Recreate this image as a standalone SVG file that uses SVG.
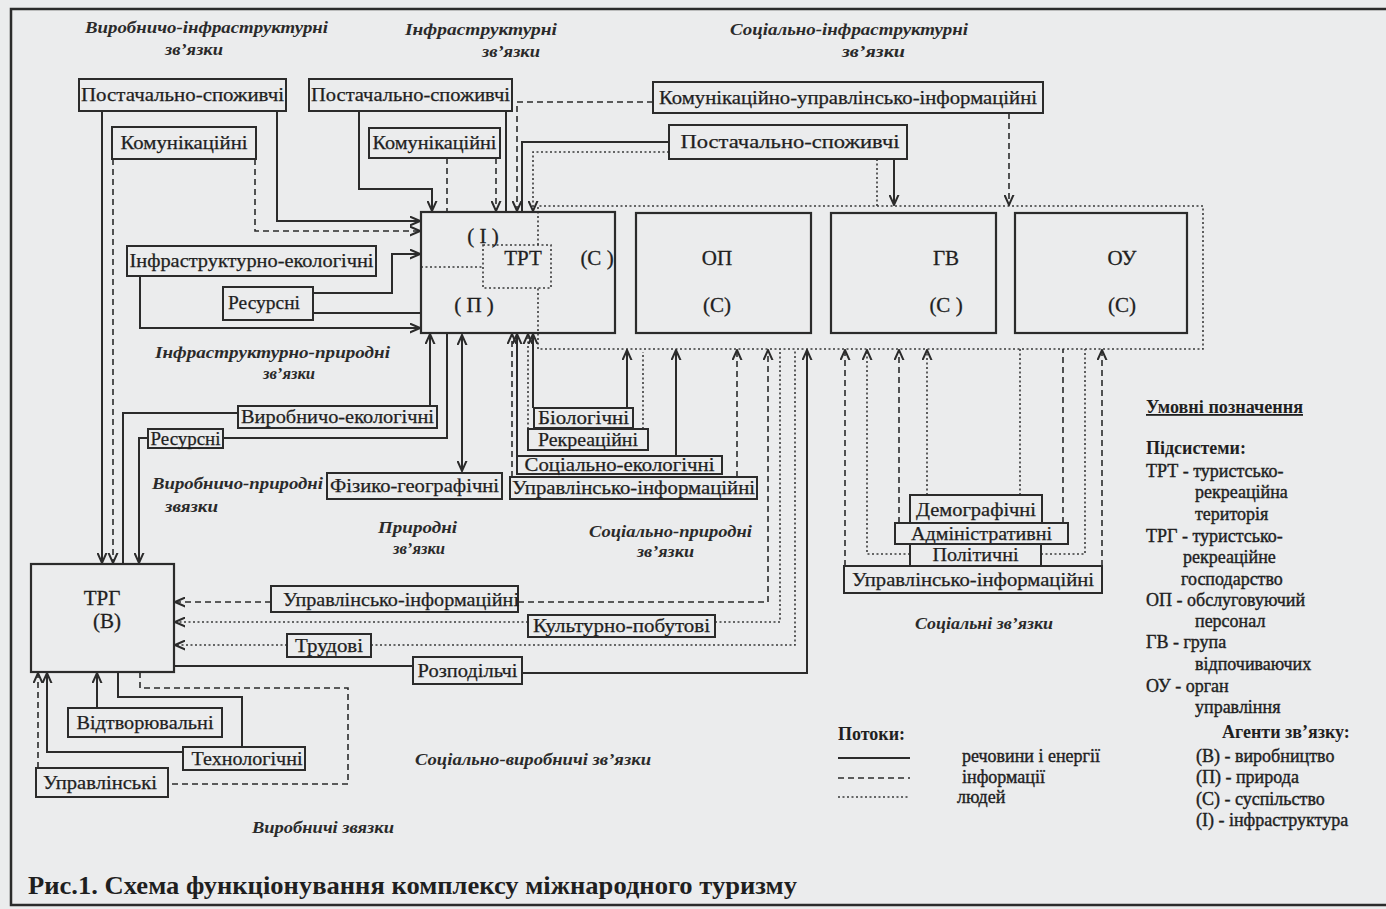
<svg xmlns="http://www.w3.org/2000/svg" width="1386" height="909" viewBox="0 0 1386 909">
<style>
.bg{fill:#ebeced}
.bx{fill:#ebeced;stroke:#2b2b2b;stroke-width:2}
.mb{fill:none;stroke:#2b2b2b;stroke-width:2.2}
.lb{font-family:"Liberation Serif",serif;font-size:18px;fill:#1f1f1f;text-anchor:middle;stroke:#1f1f1f;stroke-width:0.25}
.mt{font-family:"Liberation Serif",serif;font-size:21px;fill:#1f1f1f;text-anchor:middle;stroke:#1f1f1f;stroke-width:0.3}
.hd{font-family:"Liberation Serif",serif;font-size:17px;font-weight:bold;font-style:italic;fill:#2a2a2a}
.lg{font-family:"Liberation Serif",serif;font-size:18px;fill:#1f1f1f;stroke:#1f1f1f;stroke-width:0.4}
.lgb{font-family:"Liberation Serif",serif;font-size:18px;font-weight:bold;fill:#1f1f1f}
.s{fill:none;stroke:#2b2b2b;stroke-width:2}
.d{fill:none;stroke:#2b2b2b;stroke-width:1.6;stroke-dasharray:6 4}
.o{fill:none;stroke:#3a3a3a;stroke-width:1.6;stroke-dasharray:2 2.5}
.a{marker-end:url(#ar)}
</style>
<defs>
<marker id="ar" viewBox="0 0 10 10" refX="9.5" refY="5" markerWidth="11" markerHeight="11" markerUnits="userSpaceOnUse" orient="auto-start-reverse">
<path d="M0,0.8 L9.5,5 L0,9.2" fill="none" stroke="#2b2b2b" stroke-width="1.8"/>
</marker>
</defs>
<rect class="bg" x="0" y="0" width="1386" height="909"/>
<rect x="11" y="9" width="1390" height="896" fill="none" stroke="#2b2b2b" stroke-width="2.5"/>

<g id="connectors">
<path class="o" d="M538,245 V206 H1203 V349 H538 V288"/>
<rect class="o" x="483" y="245" width="68" height="43"/>
<path class="o" d="M421,267 H483"/>
<path class="s a" d="M102,111 V563"/>
<path class="d a" d="M113,159 V563"/>
<path class="s a" d="M277,111 V221 H420"/>
<path class="d a" d="M255,159 V231 H420"/>
<path class="s a" d="M359,112 V189 H432 V211"/>
<path class="d" d="M447,158 V212"/>
<path class="d a" d="M496,158 V211"/>
<path class="s" d="M506,112 V212"/>
<path class="d a" d="M653,102 H517 V211"/>
<path class="s" d="M669,142 H522 V212"/>
<path class="o a" d="M669,152 H533 V211"/>
<path class="o" d="M877,159 V206"/>
<path class="s a" d="M894,159 V205"/>
<path class="d a" d="M1009,113 V205"/>
<path class="s a" d="M313,293 H392 V254 H420"/>
<path class="s" d="M313,313 H421"/>
<path class="s a" d="M140,276 V328 H420"/>
<path class="s a" d="M430,406 V334"/>
<path class="s" d="M222,438 H447 V333"/>
<path class="s a" d="M148,438 H139 V563"/>
<path class="s" d="M238,413 H123 V564"/>
<path class="s a" style="marker-start:url(#ar)" d="M462,335 V471"/>
<path class="d a" d="M512,477 V334"/>
<path class="s a" d="M517,457 V334"/>
<path class="o a" d="M528,429 V334"/>
<path class="s a" d="M533,408 V334"/>
<path class="s a" d="M627,408 V350"/>
<path class="o" d="M643,429 V352"/>
<path class="s a" d="M676,457 V350"/>
<path class="d a" d="M737,477 V350"/>
<path class="d a" d="M518,602 H768 V350"/>
<path class="d a" d="M271,602 H175"/>
<path class="o a" d="M528,622 H175"/>
<path class="o" d="M715,622 H780 V349"/>
<path class="o a" d="M287,645 H175"/>
<path class="o" d="M371,645 H795 V349"/>
<path class="s" d="M413,666 H174"/>
<path class="s a" d="M522,673 H807 V350"/>
<path class="d a" d="M845,566 V350"/>
<path class="o a" d="M910,554 H867 V350"/>
<path class="d a" d="M899,523 V350"/>
<path class="o a" d="M927,495 V350"/>
<path class="o" d="M1020,495 V349"/>
<path class="d" d="M1063,523 V349"/>
<path class="o" d="M1041,554 H1085 V349"/>
<path class="d a" d="M1102,566 V350"/>
<path class="s a" d="M97,708 V673"/>
<path class="s" d="M118,672 V697 H242 V747"/>
<path class="s a" d="M183,752 H47 V673"/>
<path class="d a" d="M38,768 V673"/>
<path class="d" d="M140,672 V688 H348 V784 H168"/>
</g>

<g id="headings">
<text class="hd" x="85" y="33" textLength="243" lengthAdjust="spacingAndGlyphs">Виробничо-інфраструктурні</text>
<text class="hd" x="165" y="55" textLength="58" lengthAdjust="spacingAndGlyphs">зв’язки</text>
<text class="hd" x="405" y="35" textLength="152" lengthAdjust="spacingAndGlyphs">Інфраструктурні</text>
<text class="hd" x="482" y="57" textLength="58" lengthAdjust="spacingAndGlyphs">зв’язки</text>
<text class="hd" x="730" y="35" textLength="238" lengthAdjust="spacingAndGlyphs">Соціально-інфраструктурні</text>
<text class="hd" x="842" y="57" textLength="63" lengthAdjust="spacingAndGlyphs">зв’язки</text>
<text class="hd" x="155" y="358" textLength="235" lengthAdjust="spacingAndGlyphs">Інфраструктурно-природні</text>
<text class="hd" x="263" y="379" textLength="52" lengthAdjust="spacingAndGlyphs">зв’язки</text>
<text class="hd" x="152" y="489" textLength="171" lengthAdjust="spacingAndGlyphs">Виробничо-природні</text>
<text class="hd" x="165" y="512" textLength="53" lengthAdjust="spacingAndGlyphs">звязки</text>
<text class="hd" x="378" y="533" textLength="79" lengthAdjust="spacingAndGlyphs">Природні</text>
<text class="hd" x="393" y="554" textLength="52" lengthAdjust="spacingAndGlyphs">зв’язки</text>
<text class="hd" x="589" y="537" textLength="163" lengthAdjust="spacingAndGlyphs">Соціально-природні</text>
<text class="hd" x="637" y="557" textLength="57" lengthAdjust="spacingAndGlyphs">зв’язки</text>
<text class="hd" x="915" y="629" textLength="138" lengthAdjust="spacingAndGlyphs">Соціальні зв’язки</text>
<text class="hd" x="415" y="765" textLength="236" lengthAdjust="spacingAndGlyphs">Соціально-виробничі зв’язки</text>
<text class="hd" x="252" y="833" textLength="142" lengthAdjust="spacingAndGlyphs">Виробничі звязки</text>
</g>

<g id="trt"><rect class="mb" x="421" y="212" width="194" height="121"/>
<text class="mt" x="483" y="243">( І )</text><text class="mt" x="523" y="265">ТРТ</text><text class="mt" x="597" y="265">(С )</text><text class="mt" x="474" y="312">( П )</text></g>
<g id="op"><rect class="mb" x="636" y="213" width="175" height="120"/>
<text class="mt" x="717" y="265">ОП</text><text class="mt" x="717" y="312">(С)</text></g>
<g id="gv"><rect class="mb" x="831" y="213" width="165" height="120"/>
<text class="mt" x="946" y="265">ГВ</text><text class="mt" x="946" y="312">(С )</text></g>
<g id="ou"><rect class="mb" x="1015" y="213" width="172" height="120"/>
<text class="mt" x="1122" y="265">ОУ</text><text class="mt" x="1122" y="312">(С)</text></g>
<g id="trg"><rect class="mb" x="31" y="564" width="143" height="108"/>
<text class="mt" x="102" y="605">ТРГ</text><text class="mt" x="107" y="628">(В)</text></g>

<g id="n1"><rect class="bx" x="79" y="79" width="207" height="32"/><text class="lb" x="182.5" y="101" textLength="203" lengthAdjust="spacingAndGlyphs">Постачально-споживчі</text></g>
<g id="n2"><rect class="bx" x="309" y="79" width="203" height="32"/><text class="lb" x="410.5" y="101" textLength="199" lengthAdjust="spacingAndGlyphs">Постачально-споживчі</text></g>
<g id="n3"><rect class="bx" x="112" y="127" width="144" height="32"/><text class="lb" x="184" y="149" textLength="127" lengthAdjust="spacingAndGlyphs">Комунікаційні</text></g>
<g id="n4"><rect class="bx" x="369" y="128" width="131" height="30"/><text class="lb" x="434.5" y="149" textLength="124" lengthAdjust="spacingAndGlyphs">Комунікаційні</text></g>
<g id="n5"><rect class="bx" x="653" y="82" width="390" height="31"/><text class="lb" x="848" y="104" textLength="378" lengthAdjust="spacingAndGlyphs">Комунікаційно-управлінсько-інформаційні</text></g>
<g id="n6"><rect class="bx" x="669" y="125" width="238" height="34"/><text class="lb" x="790" y="148" textLength="219" lengthAdjust="spacingAndGlyphs">Постачально-споживчі</text></g>
<g id="n7"><rect class="bx" x="127" y="246" width="249" height="30"/><text class="lb" x="251.5" y="267" textLength="244" lengthAdjust="spacingAndGlyphs">Інфраструктурно-екологічні</text></g>
<g id="n8"><rect class="bx" x="223" y="287" width="90" height="33"/><text class="lb" x="264" y="309" textLength="72" lengthAdjust="spacingAndGlyphs">Ресурсні</text></g>
<g id="n9"><rect class="bx" x="238" y="406" width="199" height="22"/><text class="lb" x="337.5" y="423" textLength="193" lengthAdjust="spacingAndGlyphs">Виробничо-екологічні</text></g>
<g id="n10"><rect class="bx" x="148" y="429" width="75" height="19"/><text class="lb" x="185.5" y="445" textLength="70" lengthAdjust="spacingAndGlyphs">Ресурсні</text></g>
<g id="n11"><rect class="bx" x="327" y="473" width="175" height="26"/><text class="lb" x="414.5" y="492" textLength="169" lengthAdjust="spacingAndGlyphs">Фізико-географічні</text></g>
<g id="n12"><rect class="bx" x="534" y="408" width="99" height="20"/><text class="lb" x="583.5" y="424" textLength="91" lengthAdjust="spacingAndGlyphs">Біологічні</text></g>
<g id="n13"><rect class="bx" x="528" y="429" width="120" height="21"/><text class="lb" x="588" y="446" textLength="100" lengthAdjust="spacingAndGlyphs">Рекреаційні</text></g>
<g id="n14"><rect class="bx" x="517" y="456" width="205" height="18"/><text class="lb" x="619.5" y="471" textLength="190" lengthAdjust="spacingAndGlyphs">Соціально-екологічні</text></g>
<g id="n15"><rect class="bx" x="510" y="477" width="247" height="22"/><text class="lb" x="633.5" y="494" textLength="243" lengthAdjust="spacingAndGlyphs">Управлінсько-інформаційні</text></g>
<g id="n16"><rect class="bx" x="910" y="495" width="132" height="28"/><text class="lb" x="976" y="516" textLength="120" lengthAdjust="spacingAndGlyphs">Демографічні</text></g>
<g id="n17"><rect class="bx" x="895" y="523" width="173" height="21"/><text class="lb" x="981.5" y="540" textLength="141" lengthAdjust="spacingAndGlyphs">Адміністративні</text></g>
<g id="n18"><rect class="bx" x="910" y="544" width="131" height="22"/><text class="lb" x="975.5" y="561" textLength="86" lengthAdjust="spacingAndGlyphs">Політичні</text></g>
<g id="n19"><rect class="bx" x="844" y="566" width="258" height="27"/><text class="lb" x="973" y="586" textLength="242" lengthAdjust="spacingAndGlyphs">Управлінсько-інформаційні</text></g>
<g id="n20"><rect class="bx" x="271" y="586" width="247" height="26"/><text class="lb" x="401" y="606" textLength="236" lengthAdjust="spacingAndGlyphs">Управлінсько-інформаційні</text></g>
<g id="n21"><rect class="bx" x="528" y="615" width="187" height="22"/><text class="lb" x="621.5" y="632" textLength="177" lengthAdjust="spacingAndGlyphs">Культурно-побутові</text></g>
<g id="n22"><rect class="bx" x="287" y="634" width="84" height="23"/><text class="lb" x="329" y="652" textLength="68" lengthAdjust="spacingAndGlyphs">Трудові</text></g>
<g id="n23"><rect class="bx" x="413" y="657" width="109" height="27"/><text class="lb" x="467.5" y="677" textLength="100" lengthAdjust="spacingAndGlyphs">Розподільчі</text></g>
<g id="n24"><rect class="bx" x="68" y="708" width="154" height="29"/><text class="lb" x="145" y="729" textLength="137" lengthAdjust="spacingAndGlyphs">Відтворювальні</text></g>
<g id="n25"><rect class="bx" x="183" y="747" width="122" height="23"/><text class="lb" x="247" y="765" textLength="111" lengthAdjust="spacingAndGlyphs">Технологічні</text></g>
<g id="n26"><rect class="bx" x="36" y="768" width="132" height="29"/><text class="lb" x="100" y="789" textLength="114" lengthAdjust="spacingAndGlyphs">Управлінські</text></g>

<g id="flows-legend">
<text class="lgb" x="838" y="740">Потоки:</text>
<path class="s" d="M838,758 H910"/>
<path class="d" d="M838,778 H910"/>
<path class="o" d="M838,797 H910"/>
<text class="lg" x="962" y="762">речовини і енергії</text>
<text class="lg" x="962" y="783">інформації</text>
<text class="lg" x="957" y="803">людей</text>
</g>

<g id="legend">
<text class="lgb" x="1146" y="413" text-decoration="underline" textLength="157" lengthAdjust="spacingAndGlyphs">Умовні позначення</text>
<text class="lgb" x="1146" y="454">Підсистеми:</text>
<text class="lg" x="1146" y="477">ТРТ  - туристсько-</text>
<text class="lg" x="1195" y="498">рекреаційна</text>
<text class="lg" x="1195" y="520">територія</text>
<text class="lg" x="1146" y="542">ТРГ - туристсько-</text>
<text class="lg" x="1183" y="563">рекреаційне</text>
<text class="lg" x="1181" y="585">господарство</text>
<text class="lg" x="1146" y="606">ОП - обслуговуючий</text>
<text class="lg" x="1195" y="627">персонал</text>
<text class="lg" x="1146" y="648">ГВ - група</text>
<text class="lg" x="1195" y="670">відпочиваючих</text>
<text class="lg" x="1146" y="692">ОУ - орган</text>
<text class="lg" x="1195" y="713">управління</text>
<text class="lgb" x="1222" y="738">Агенти зв’язку:</text>
<text class="lg" x="1196" y="762">(В) - виробництво</text>
<text class="lg" x="1196" y="783">(П) - природа</text>
<text class="lg" x="1196" y="805">(С) - суспільство</text>
<text class="lg" x="1196" y="826">(І) - інфраструктура</text>
</g>

<text id="title" x="28" y="894" font-family="'Liberation Serif',serif" font-size="26" font-weight="bold" fill="#1f1f1f" textLength="769" lengthAdjust="spacingAndGlyphs">Рис.1.  Схема функціонування комплексу міжнародного туризму</text>
</svg>
